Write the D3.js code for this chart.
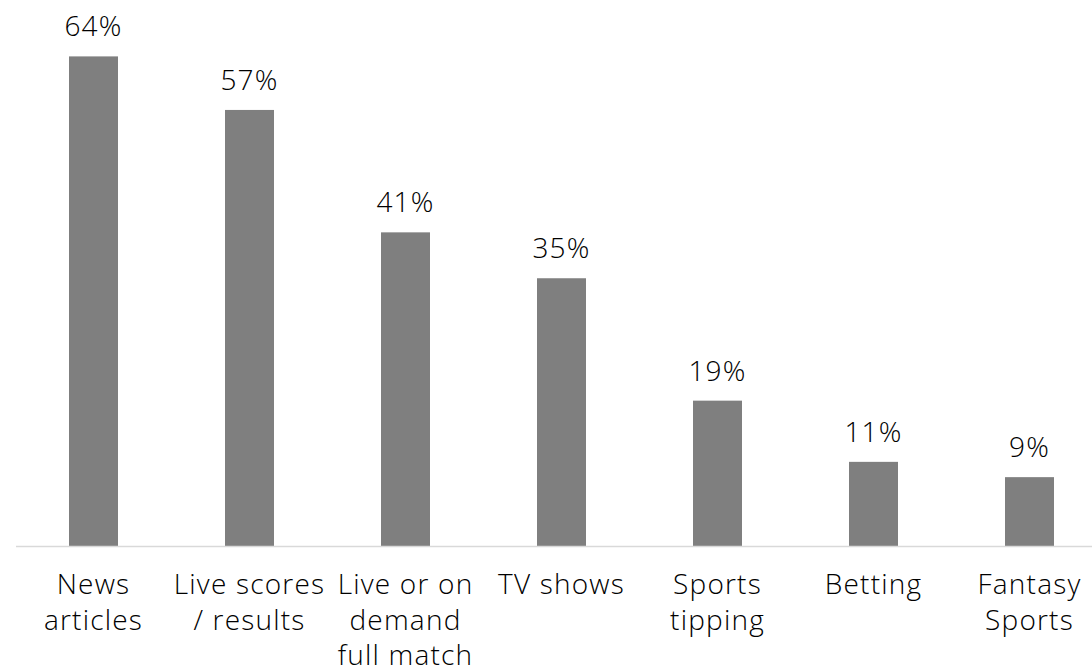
<!DOCTYPE html>
<html><head><meta charset="utf-8">
<script src="https://cdn.jsdelivr.net/npm/d3@7"></script>
<style>
html,body{margin:0;padding:0;background:#fff;}
svg{display:block;font-family:"Open Sans",sans-serif;font-weight:300;letter-spacing:1.2px;}
</style></head>
<body><svg id="chart" width="1092" height="668"></svg>
<script>
const categories = ["News articles","Live scores / results","Live or on demand full match","TV shows","Sports tipping","Betting","Fantasy Sports"];
const categoryLines = [["News","articles"],["Live scores","/ results"],["Live or on","demand","full match"],["TV shows"],["Sports","tipping"],["Betting"],["Fantasy","Sports"]];
const values = [0.64,0.57,0.41,0.35,0.19,0.11,0.09];
const valueLabels = ["64%","57%","41%","35%","19%","11%","9%"];

const svg = d3.select("#chart");
const x = d3.scaleBand().domain(categories).range([15.5, 1107.5]).paddingInner(0.686).paddingOuter(0.343);
const y = d3.scaleLinear().domain([0, 0.7]).range([546, 10.5]);
const fs = 28;

svg.selectAll("rect.bar").data(categories).join("rect")
  .attr("class","bar")
  .attr("x", d => x(d))
  .attr("width", x.bandwidth())
  .attr("y", (d,i) => y(values[i]))
  .attr("height", (d,i) => y(0) - y(values[i]))
  .attr("fill", "#7f7f7f");

svg.selectAll("text.val").data(categories).join("text")
  .attr("class","val")
  .attr("x", d => x(d) + x.bandwidth()/2)
  .attr("y", (d,i) => y(values[i]) - 20)
  .attr("text-anchor","middle")
  .attr("font-size", fs)
  .attr("fill","#000")
  .text((d,i) => valueLabels[i]);

const axis = svg.append("g").attr("transform","translate(0,546)")
  .call(d3.axisBottom(x).tickSize(0).tickFormat(""));
axis.select(".domain").attr("stroke","#d9d9d9").attr("stroke-width",1.5);

const lbl = svg.selectAll("text.cat").data(categories).join("text")
  .attr("class","cat")
  .attr("text-anchor","middle")
  .attr("font-size", fs)
  .attr("fill","#000");
lbl.each(function(d,i){
  const t = d3.select(this);
  const cx = x(d) + x.bandwidth()/2;
  categoryLines[i].forEach((ln,j) => {
    t.append("tspan").attr("x", cx).attr("y", 594 + j*35.5).text(ln);
  });
});
</script></body></html>
